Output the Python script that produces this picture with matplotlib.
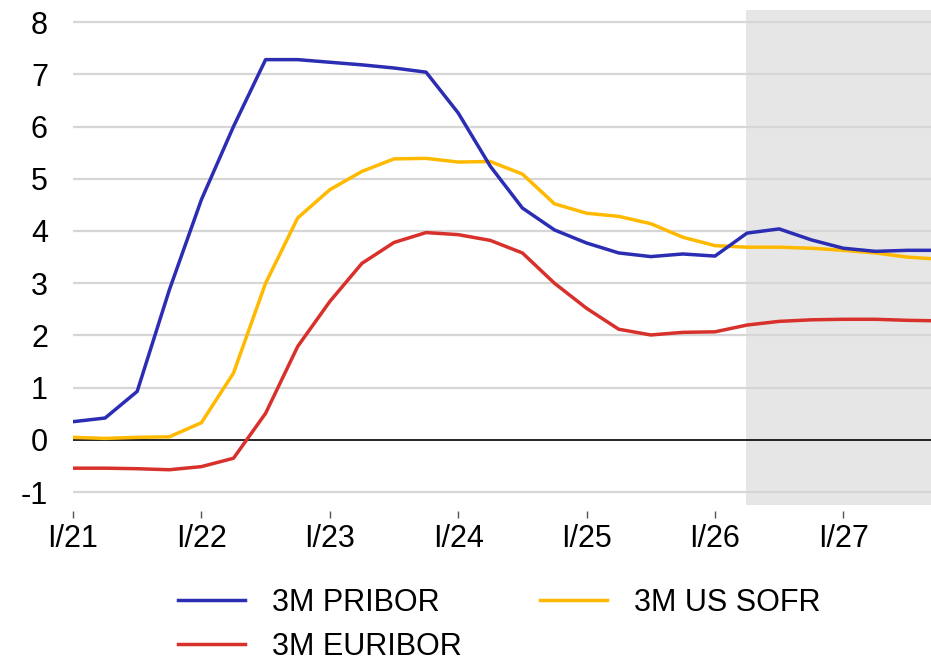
import matplotlib.pyplot as plt
import numpy as np

plt.rcParams['font.family'] = ['Liberation Sans', 'DejaVu Sans']
plt.rcParams['axes.unicode_minus'] = False

# quarterly values, I/21 .. IV/27
quarters = np.arange(28)
pribor = [0.35, 0.42, 0.93, 2.87, 4.60, 6.00, 7.28, 7.28, 7.23, 7.18, 7.12, 7.04,
          6.26, 5.24, 4.44, 4.02, 3.77, 3.58, 3.51, 3.56, 3.52, 3.96, 4.04, 3.83,
          3.67, 3.61, 3.63, 3.63]
sofr = [0.05, 0.03, 0.05, 0.06, 0.33, 1.28, 3.00, 4.25, 4.79, 5.14, 5.38, 5.39,
        5.32, 5.33, 5.09, 4.52, 4.34, 4.28, 4.14, 3.88, 3.72, 3.69, 3.69, 3.67,
        3.63, 3.58, 3.50, 3.46]
euribor = [-0.54, -0.54, -0.55, -0.57, -0.51, -0.35, 0.51, 1.79, 2.65, 3.38, 3.78, 3.97,
           3.93, 3.82, 3.58, 3.00, 2.52, 2.12, 2.01, 2.06, 2.07, 2.20, 2.27, 2.30,
           2.31, 2.31, 2.29, 2.28]
tick_pos = [0, 4, 8, 12, 16, 20, 24]
tick_labels = ['I/21', 'I/22', 'I/23', 'I/24', 'I/25', 'I/26', 'I/27']
forecast_start = 21

fig = plt.figure(figsize=(9.31, 6.63), dpi=100)
ax = fig.add_axes([73 / 931, 152.5 / 663, 858 / 931, 500.5 / 663])

# forecast period
ax.fill_between([forecast_start - 0.04, 28], -1.25, 8.23, color='#e6e6e6', lw=0, zorder=0)

for v in range(-1, 9):
    if v != 0:
        ax.axhline(v, color='#d6d6d6', lw=1.6, zorder=1)
ax.axhline(0, color='black', lw=1.2, zorder=2)

ax.plot(quarters, pribor, color='#2b2db3', lw=2.5, label='3M PRIBOR', zorder=5)
ax.plot(quarters, euribor, color='#d8302b', lw=2.5, label='3M EURIBOR', zorder=3)
ax.plot(quarters, sofr, color='#ffb900', lw=2.5, label='3M US SOFR', zorder=4)

ax.set_xlim(0, 26.73)
ax.set_ylim(-1.35, 8.23)
ax.set_yticks(range(-1, 9))
ax.set_xticks(tick_pos)
ax.set_xticklabels(tick_labels)
ax.tick_params(axis='y', length=0, labelsize=22, pad=18)
ax.tick_params(axis='x', length=5, width=1, color='#555555', labelsize=22, pad=5)
for s in ax.spines.values():
    s.set_visible(False)

fig.legend(loc='upper left', bbox_to_anchor=(178 / 931, 1 - 588 / 663), ncol=2,
           frameon=False, fontsize=22, handlelength=2.2, handletextpad=0.88,
           columnspacing=2.55, labelspacing=0.45, borderpad=0, borderaxespad=0)

fig.savefig('out.png', dpi=100)
